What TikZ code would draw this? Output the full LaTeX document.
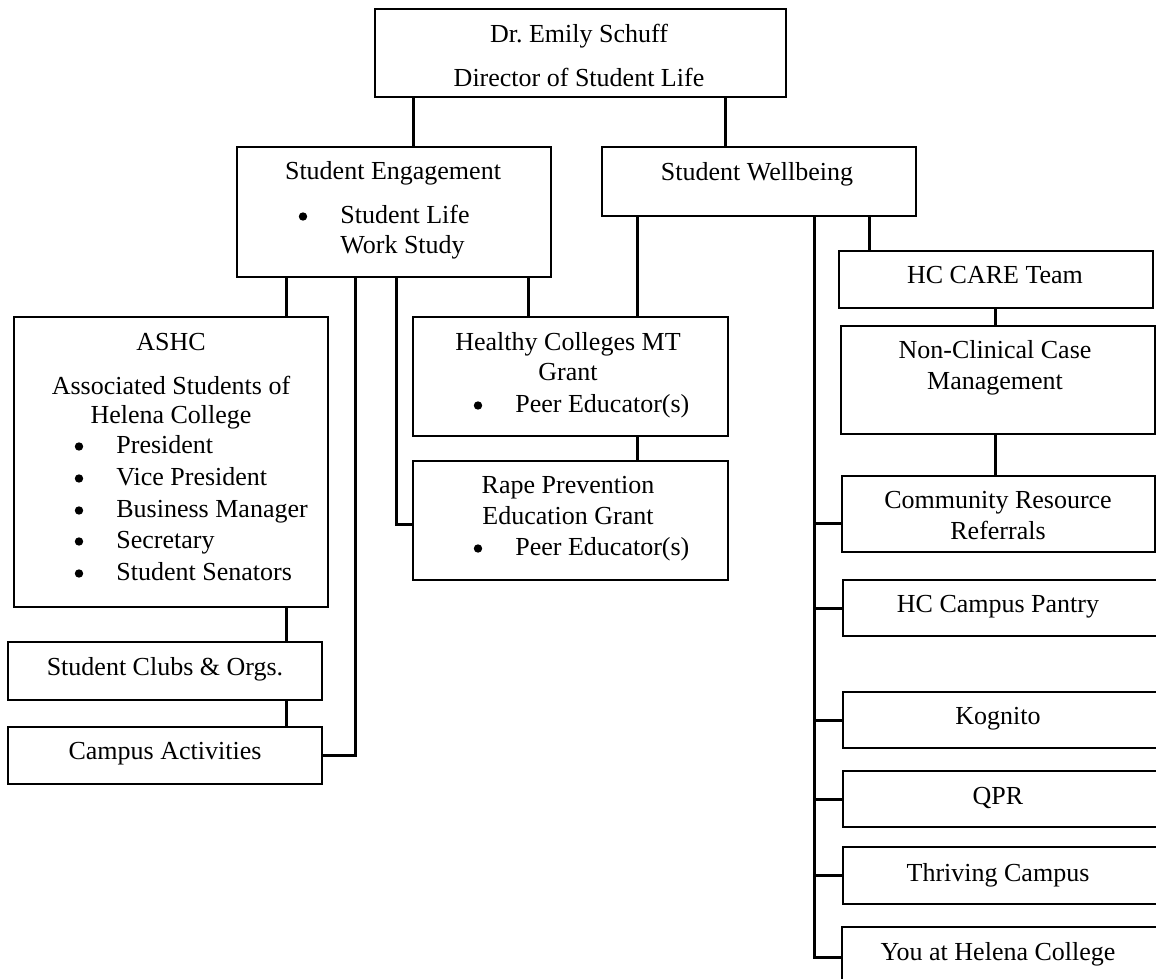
\documentclass[tikz,border=0pt]{standalone}
\usepackage{fontspec}
\setmainfont{Liberation Serif}
\usetikzlibrary{fit}
\frenchspacing
\begin{document}
\begin{tikzpicture}[x=0.5pt,y=-0.5pt,
  box/.style={draw, line width=0.9pt, inner sep=0pt, rectangle},
  conn/.style={draw, line width=1.5pt},
  txt/.style={inner sep=0pt, anchor=base, font=\fontsize{13}{15}\selectfont},
  ltxt/.style={txt, anchor=base west},
  bul/.style={circle, fill=black, inner sep=0pt, minimum size=4.2pt}]
\useasboundingbox (0,0) rectangle (1156,979);
\clip (0,0) rectangle (1156,979);
% boxes
\node[box, fit={(375,9) (786,97)}] (top) {};
\node[box, fit={(237,147) (551,277)}] (se) {};
\node[box, fit={(602,147) (916,216)}] (sw) {};
\node[box, fit={(14,317) (328,607)}] (ashc) {};
\node[box, fit={(8,642) (322,700)}] (clubs) {};
\node[box, fit={(8,727) (322,784)}] (act) {};
\node[box, fit={(413,317) (728,436)}] (hcg) {};
\node[box, fit={(413,461) (728,580)}] (rape) {};
\node[box, fit={(839,251) (1153,308)}] (care) {};
\node[box, fit={(841,326) (1155,434)}] (ncm) {};
\node[box, fit={(842,476) (1155,552)}] (crr) {};
\node[box, fit={(843,580) (1175,636)}] (pantry) {};
\node[box, fit={(843,692) (1175,748)}] (kog) {};
\node[box, fit={(843,771) (1175,827)}] (qpr) {};
\node[box, fit={(843,847) (1175,904)}] (thr) {};
\node[box, fit={(842,927) (1175,1010)}] (you) {};
% texts
\node[txt] (t1) at (579,43) {Dr. Emily Schuff};
\node[txt] (t2) at (579,87) {Director of Student Life};
\node[txt] (t3) at (393,179) {Student Engagement};
\node[bul] (b1) at (303,216.5) {};
\node[ltxt] (t4) at (340,223) {Student Life};
\node[ltxt] (t5) at (340,253) {Work Study};
\node[txt] (t6) at (757,180) {Student Wellbeing};
\node[txt] (t7) at (171,350) {ASHC};
\node[txt] (t8) at (171,394) {Associated Students of};
\node[txt] (t9) at (171,423) {Helena College};
\node[bul] (b2) at (79,446.5) {};
\node[ltxt] (t10) at (116,453) {President};
\node[bul] (b3) at (79,478.5) {};
\node[ltxt] (t11) at (116,485) {Vice President};
\node[bul] (b4) at (79,510.5) {};
\node[ltxt] (t12) at (116,517) {Business Manager};
\node[bul] (b5) at (79,541.5) {};
\node[ltxt] (t13) at (116,548) {Secretary};
\node[bul] (b6) at (79,573.5) {};
\node[ltxt] (t14) at (116,580) {Student Senators};
\node[txt] (t15) at (165,675) {Student Clubs \& Orgs.};
\node[txt] (t16) at (165,759) {Campus Activities};
\node[txt] (t17) at (568,350) {Healthy Colleges MT};
\node[txt] (t18) at (568,380) {Grant};
\node[bul] (b7) at (478,405.5) {};
\node[ltxt] (t19) at (515,412) {Peer Educator(s)};
\node[txt] (t20) at (568,493) {Rape Prevention};
\node[txt] (t21) at (568,524) {Education Grant};
\node[bul] (b8) at (478,548.5) {};
\node[ltxt] (t22) at (515,555) {Peer Educator(s)};
\node[txt] (t23) at (995,283) {HC CARE Team};
\node[txt] (t24) at (995,358) {Non-Clinical Case};
\node[txt] (t25) at (995,389) {Management};
\node[txt] (t26) at (998,508) {Community Resource};
\node[txt] (t27) at (998,539) {Referrals};
\node[txt] (t28) at (998,612) {HC Campus Pantry};
\node[txt] (t29) at (998,724) {Kognito};
\node[txt] (t30) at (998,804) {QPR};
\node[txt] (t31) at (998,881) {Thriving Campus};
\node[txt] (t32) at (998,960) {You at Helena College};
% connector x positions
\coordinate (x413) at (413,0);
\coordinate (x725) at (725,0);
\coordinate (x286) at (286,0);
\coordinate (x355) at (355,0);
\coordinate (x396) at (396,0);
\coordinate (x528) at (528,0);
\coordinate (x637) at (637,0);
\coordinate (x869) at (869,0);
\coordinate (x995) at (995,0);
\coordinate (x814) at (814,0);
\coordinate (yrape) at (0,524);
\coordinate (ycrr) at (0,523);
\coordinate (yyou) at (0,957);
% connectors
\draw[conn] (top.south -| x413) -- (se.north -| x413);
\draw[conn] (top.south -| x725) -- (sw.north -| x725);
\draw[conn] (se.south -| x286) -- (ashc.north -| x286);
\draw[conn] (ashc.south -| x286) -- (clubs.north -| x286);
\draw[conn] (clubs.south -| x286) -- (act.north -| x286);
\draw[conn] (se.south -| x355) |- (act.east);
\draw[conn] (se.south -| x396) |- (rape.west |- yrape);
\draw[conn] (se.south -| x528) -- (hcg.north -| x528);
\draw[conn] (sw.south -| x637) -- (hcg.north -| x637);
\draw[conn] (hcg.south -| x637) -- (rape.north -| x637);
\draw[conn] (sw.south -| x869) -- (care.north -| x869);
\draw[conn] (care.south -| x995) -- (ncm.north -| x995);
\draw[conn] (ncm.south -| x995) -- (crr.north -| x995);
\draw[conn] (sw.south -| x814) |- (you.west |- yyou);
\draw[conn] (x814 |- ycrr) -- (crr.west |- ycrr);
\draw[conn] (x814 |- pantry.west) -- (pantry.west);
\draw[conn] (x814 |- kog.west) -- (kog.west);
\draw[conn] (x814 |- qpr.west) -- (qpr.west);
\draw[conn] (x814 |- thr.west) -- (thr.west);
\end{tikzpicture}
\end{document}
